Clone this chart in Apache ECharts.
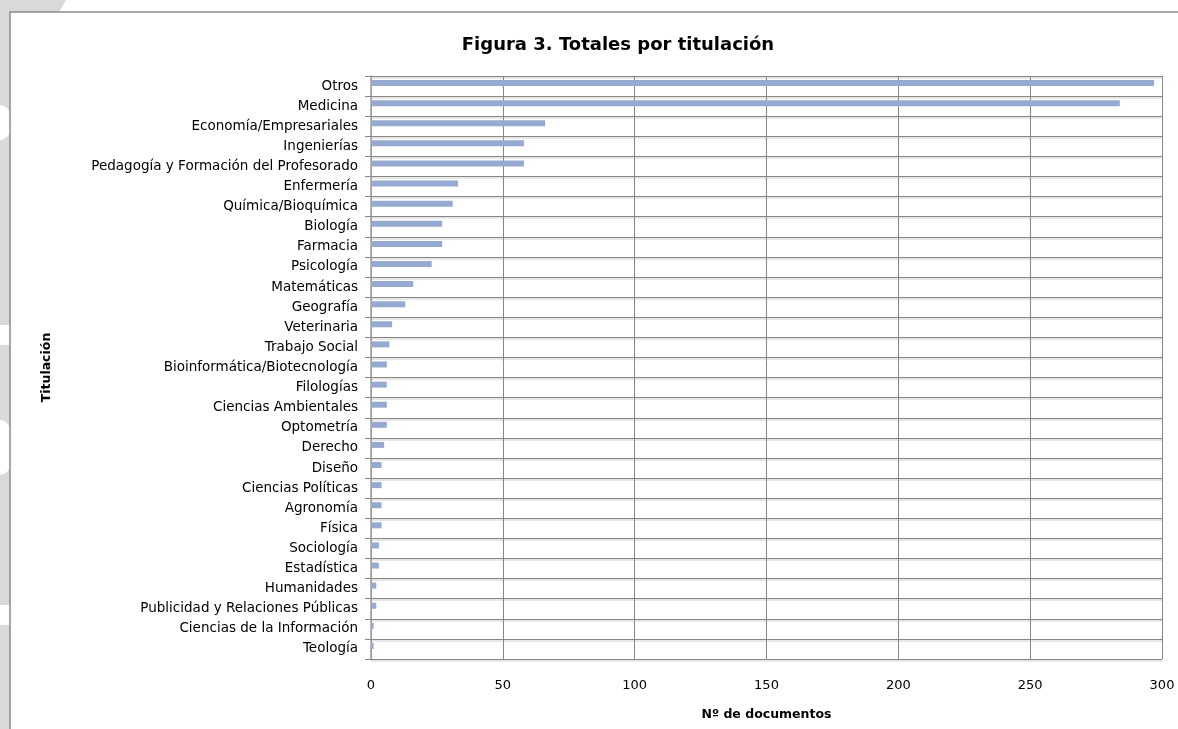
<!DOCTYPE html>
<html>
<head>
<meta charset="utf-8">
<script src="https://cdn.jsdelivr.net/npm/echarts@6/dist/echarts.min.js"></script>
<style>html,body{margin:0;padding:0;background:#fff}#c{width:1178px;height:729px}</style>
</head>
<body>
<div id="c"></div>
<script>
const categories = ["Otros","Medicina","Economía/Empresariales","Ingenierías","Pedagogía y Formación del Profesorado","Enfermería","Química/Bioquímica","Biología","Farmacia","Psicología","Matemáticas","Geografía","Veterinaria","Trabajo Social","Bioinformática/Biotecnología","Filologías","Ciencias Ambientales","Optometría","Derecho","Diseño","Ciencias Políticas","Agronomía","Física","Sociología","Estadística","Humanidades","Publicidad y Relaciones Públicas","Ciencias de la Información","Teología"];
const documentos = [297,284,66,58,58,33,31,27,27,23,16,13,8,7,6,6,6,6,5,4,4,4,4,3,3,2,2,1,1];
const xTicks = [0,50,100,150,200,250,300];
const titleText = "Figura 3. Totales por titulación";
const xName = "Nº de documentos";
const yName = "Titulación";

const chart = echarts.init(document.getElementById('c'));
const grey = '#868686';
chart.setOption({
  animation: false,
  backgroundColor: '#fff',
  title: {
    text: titleText, left: 613, top: 31, textAlign: 'center',
    textStyle: {fontFamily: 'DejaVu Sans', fontWeight: 'bold', fontSize: 18, color: '#000'}
  },
  graphic: [
    {type: 'rect', z: -10, shape: {x: 0, y: 0, width: 10, height: 729}, style: {fill: '#d9d9d9'}},
    {type: 'polygon', z: -10, shape: {points: [[0,0],[66,0],[59,12],[0,12]]}, style: {fill: '#d9d9d9'}},
    {type: 'rect', z: -9, shape: {x: 0, y: 105, width: 10, height: 35, r: [0,12,12,0]}, style: {fill: '#fff'}},
    {type: 'rect', z: -9, shape: {x: 0, y: 325, width: 10, height: 20}, style: {fill: '#fff'}},
    {type: 'rect', z: -9, shape: {x: 0, y: 420, width: 10, height: 55, r: [0,14,14,0]}, style: {fill: '#fff'}},
    {type: 'rect', z: -9, shape: {x: 0, y: 605, width: 10, height: 20}, style: {fill: '#fff'}},
    {type: 'polyline', z: -8, shape: {points: [[10,729],[10,12],[1178,12]]}, style: {stroke: '#8a8a8a', lineWidth: 1.5, fill: null}}
  ],
  grid: {left: 371, right: 16, top: 76, bottom: 70},
  xAxis: {
    type: 'value', min: 0, max: 300, interval: 50,
    name: xName, nameLocation: 'middle', nameGap: 49,
    nameTextStyle: {fontFamily: 'DejaVu Sans', fontWeight: 'bold', fontSize: 12.5, color: '#000'},
    axisLine: {show: true, lineStyle: {color: grey}},
    axisTick: {show: false},
    axisLabel: {fontFamily: 'DejaVu Sans', fontSize: 13, color: '#000', margin: 20,
      formatter: v => xTicks.includes(v) ? String(v) : ''},
    splitLine: {show: true, lineStyle: {color: grey, width: 1}}
  },
  yAxis: {
    type: 'category', data: categories, inverse: true,
    name: yName, nameLocation: 'middle', nameGap: 318, nameRotate: 90,
    nameTextStyle: {fontFamily: 'DejaVu Sans', fontWeight: 'bold', fontSize: 12.5, color: '#000'},
    axisLine: {show: true, lineStyle: {color: '#a0a0a0', width: 1.5}},
    axisTick: {show: true, length: 6, lineStyle: {color: grey}},
    axisLabel: {fontFamily: 'DejaVu Sans', fontSize: 13.5, color: '#000', margin: 13, interval: 0,
      padding: [3, 0, 0, 0]},
    splitLine: {show: true, lineStyle: {color: grey, width: 1, shadowColor: '#cfcfcf', shadowOffsetY: 1.5, shadowBlur: 0}}
  },
  series: [
    {type: 'bar', data: documentos, barWidth: 6, barGap: '0%', itemStyle: {color: '#95A9D1'}},
    {type: 'bar', data: documentos.map(() => '-'), barWidth: 6, barGap: '0%'}
  ]
});
</script>
</body>
</html>
